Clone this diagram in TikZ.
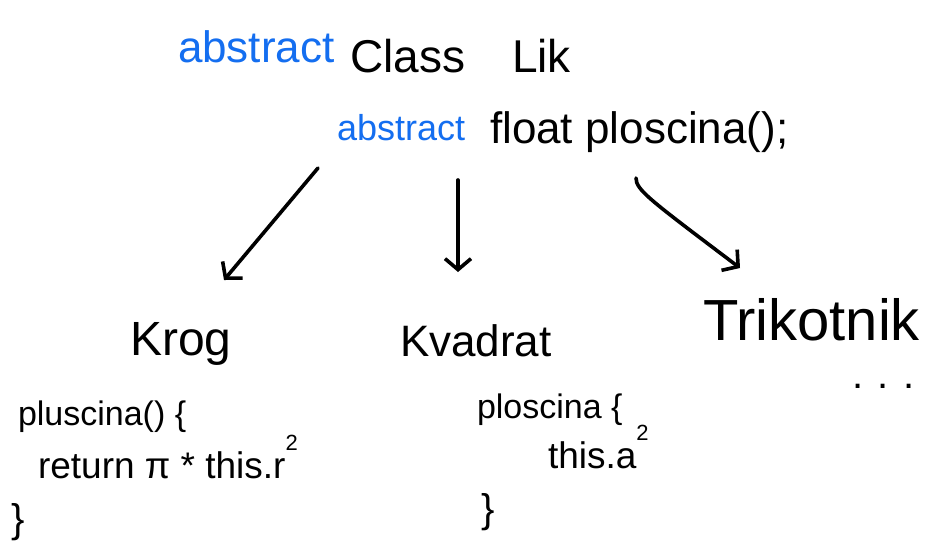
\documentclass[tikz,border=0pt]{standalone}
\usepackage{fontspec}
\setmainfont{Liberation Sans}
\usetikzlibrary{arrows.meta}
\definecolor{penblue}{RGB}{20,110,240}
\tikzset{
  txt/.style={anchor=base west, inner sep=0pt, outer sep=0pt, text=black},
  kw/.style={txt, text=penblue},
  conn/.style={line width=3.6pt, line cap=round, -{Straight Barb[length=11pt,width=26pt,line width=3.6pt]}},
}
\newcommand{\fs}[1]{\fontsize{#1}{#1}\selectfont}
\newcommand{\sq}{\raisebox{0.75em}{\fontsize{22}{22}\selectfont 2}}
\begin{document}
\begin{tikzpicture}[x=1pt,y=-1pt]
\useasboundingbox (0,0) rectangle (930,542);
\fill[white] (0,0) rectangle (930,542);
% title
\node[kw] (abs1) at (178,62) {\fs{44}abstract};
\node[txt] (cls) at (350,72) {\fs{46}Class};
\node[txt] (lik) at (512,72) {\fs{46}Lik};
% method
\node[kw] (abs2) at (337,140) {\fs{36}abstract};
\node[txt] (meth) at (490,143) {\fs{44}float ploscina();};
% children
\node[txt] (krog) at (130,355) {\fs{48}Krog};
\node[txt] (kvad) at (400,356) {\fs{44}Kvadrat};
\node[txt] (trik) at (703,340) {\fs{58}Trikotnik};
\node[txt] (dots) at (852,388) {\fs{40}. . .};
% Krog code
\node[txt] (k1) at (18,425) {\fs{34}pluscina() \{};
\node[txt] (k2) at (38,478) {\fs{37}return π * this.r\sq};
\node[txt] (k3) at (12,532) {\fs{40}\}};
% Kvadrat code
\node[txt] (q1) at (477,418) {\fs{34}ploscina \{};
\node[txt] (q2) at (548,468) {\fs{37}this.a\sq};
\node[txt] (q3) at (481,522) {\fs{40}\}};
% connectors
\coordinate (s1) at (318,168);
\coordinate (e1) at (224,280);
\coordinate (s2) at (458,180);
\coordinate (e2) at (458,272);
\coordinate (s3) at (636,178);
\coordinate (e3) at (740,268);
\draw[conn] (s1) -- (e1);
\draw[conn] (s2) -- (e2);
\draw[conn] (s3) .. controls (636,190) and (650,200) .. (e3);
\end{tikzpicture}
\end{document}
